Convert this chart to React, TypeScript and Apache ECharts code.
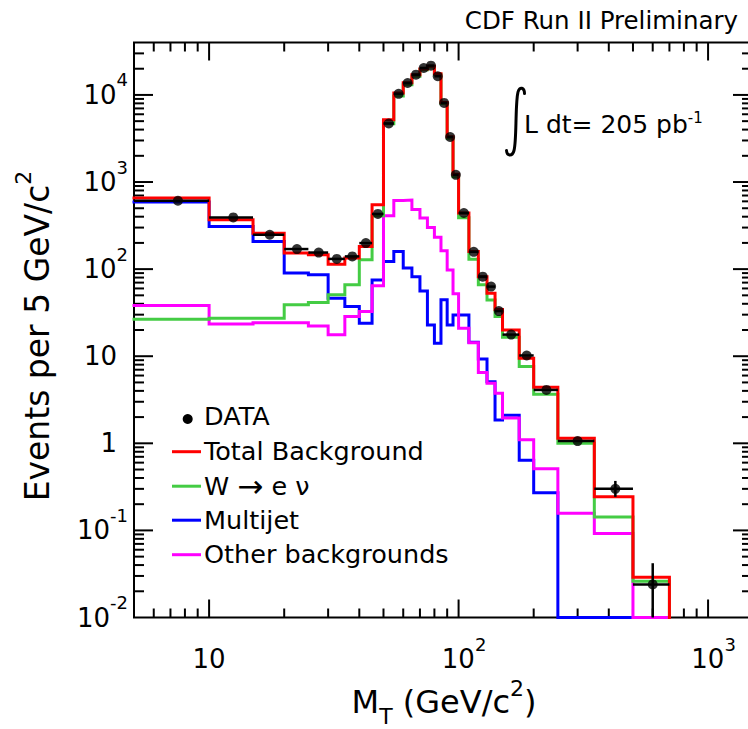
import React, { useEffect, useRef } from "react";
import * as echarts from "echarts";

// ---- data ----
const binEdges = [5, 10, 15, 20, 25, 30, 35, 40, 45, 50, 55, 60, 65, 70, 75, 80, 85, 90, 95, 100, 110, 120, 130, 140, 150, 175, 200, 250, 350, 500, 700];

const dataCounts = [610, 392, 248, 170, 155, 131, 140, 199, 430, 4700, 10300, 13700, 17100, 20400, 21700, 16400, 8100, 3290, 1210, 441, 158, 82, 63, 33, 17.7, 10.2, 4.1, 1.06, 0.3, 0.024];
const dataErrLow: (number | null)[] = [null, null, null, null, null, null, null, null, null, null, null, null, null, null, null, null, null, null, null, null, null, null, null, null, null, null, null, null, 0.243, 0];
const dataErrHigh: (number | null)[] = [null, null, null, null, null, null, null, null, null, null, null, null, null, null, null, null, null, null, null, null, null, null, null, null, null, null, null, null, 0.37, 0.042];

const totalBackground = [655, 369, 259, 153, 146, 114, 134, 182, 548, 5200, 10500, 13800, 17000, 19900, 21300, 17500, 8200, 3300, 1230, 441, 159, 82, 53, 34.4, 20, 9.5, 4.4, 1.14, 0.243, 0.029];
const wToENu = [26.6, 27.3, 27.3, 38.9, 41.3, 50.7, 66, 128, 409, 4670, 9730, 13080, 16430, 19460, 20980, 17250, 7990, 3180, 1150, 390, 130, 66, 44.3, 28.5, 16.5, 7.6, 3.65, 1.0, 0.143, 0.026];
const multijet = [590, 309, 208, 90, 86, 46.4, 37.2, 23.9, 75, 122, 159, 103, 82, 56, 22.9, 14.1, 44.4, 22.9, 29.8, 29.8, 14.5, 9.3, 5.1, 1.85, 2.1, 0.64, 0.27, 0, 0, 0];
const otherBackgrounds = [38.2, 23.5, 24.3, 24.3, 22.3, 17.6, 28.5, 32.6, 64.4, 410, 615, 620, 485, 386, 300, 232, 163, 98, 52, 21, 14.3, 6.5, 4.9, 3.76, 1.95, 1.1, 0.51, 0.157, 0.092, 0];

const legendLabels = ["DATA", "Total Background", "W \u2192 e \u03bd", "Multijet", "Other backgrounds"];

const X_MIN = 5;
const X_MAX = 1500;
const Y_MIN = 0.01;
const Y_MAX = 40000;

const xDecades = [1, 10, 100, 1000];
const yDecades = [0.01, 0.1, 1, 10, 100, 1000, 10000];
const minorMantissas = [2, 3, 4, 5, 6, 7, 8, 9];

const FONT = "DejaVu Sans";
const RED = "#ff0000";
const GREEN = "#44cc44";
const BLUE = "#0000ff";
const MAGENTA = "#ff00ff";

// integral sign outline (drawn symbol)
echarts.graphic.registerShape(
  "integralSign",
  echarts.graphic.extendPath(
    "M524.5,93.5 C524.5,87.5 519.5,86 518,92 C516.5,98 516.3,110 516,121 C515.7,133 515.5,145 514,150.5 C512.5,156.5 507,156.5 506.5,150.5",
    {}
  ) as any
);

function stepPoints(values: number[]) {
  const pts: number[][] = [];
  for (let i = 0; i < values.length; i++) {
    const v = Math.max(values[i], Y_MIN);
    pts.push([binEdges[i], v], [binEdges[i + 1], v]);
  }
  pts.push([binEdges[binEdges.length - 1], Y_MIN]);
  return pts;
}

function minorList(decades: number[], lo: number, hi: number) {
  const out: number[] = [];
  decades.forEach((d) => minorMantissas.forEach((m) => {
    const v = d * m;
    if (v > lo * 1.0001 && v < hi * 0.9999) out.push(v);
  }));
  return out;
}

function histSeries(name: string, values: number[], color: string, z: number) {
  return {
    type: "line",
    name,
    data: stepPoints(values),
    showSymbol: false,
    symbol: "none",
    clip: false,
    silent: true,
    z,
    lineStyle: { color, width: 3, join: "miter", cap: "square" },
  };
}

function buildOption() {
  const centers = dataCounts.map((_, i) => (binEdges[i] + binEdges[i + 1]) / 2);
  const xMajor = xDecades.filter((v) => v > X_MIN && v < X_MAX);
  const yMajor = yDecades.filter((v) => v > Y_MIN && v < Y_MAX);
  const xMinor = minorList(xDecades, X_MIN, X_MAX);
  const yMinor = minorList(yDecades, Y_MIN, Y_MAX);

  const errData = dataCounts.map((v, i) => [
    binEdges[i],
    binEdges[i + 1],
    centers[i],
    v,
    Math.max(dataErrLow[i] == null ? v : (dataErrLow[i] as number), Y_MIN),
    dataErrHigh[i] == null ? v : (dataErrHigh[i] as number),
  ]);

  const labelRich = {
    b: { fontSize: 26, lineHeight: 48, fontFamily: FONT, color: "#000" },
    s: { fontSize: 18, lineHeight: 18, verticalAlign: "top", fontFamily: FONT, color: "#000" },
    p: { width: 11, lineHeight: 48, fontSize: 26, fontFamily: FONT },
  };

  const legendFont = { fontSize: 25.5, fontFamily: FONT, fill: "#000" };
  const legendX = 204;
  const legendRows = [416, 451, 485.5, 519.5, 554];
  const legendColors = [RED, GREEN, BLUE, MAGENTA];

  const graphic: any[] = [
    {
      type: "text", x: 738, y: 20, z: 100,
      style: { text: "CDF Run II Preliminary", ...legendFont, fontSize: 24.5, align: "right", verticalAlign: "middle", textAlign: "right", textVerticalAlign: "middle" },
    },
    {
      type: "integralSign", x: 0, y: 0, z: 100,
      style: { stroke: "#000", fill: "none", lineWidth: 3, lineCap: "round" },
    },
    {
      type: "text", x: 524, y: 124, z: 100,
      style: {
        text: "{m|L dt= 205 pb}{s|-1}",
        align: "left", verticalAlign: "middle", textAlign: "left", textVerticalAlign: "middle",
        rich: {
          m: { fontSize: 25, lineHeight: 28, fontFamily: FONT, color: "#000" },
          s: { fontSize: 15, lineHeight: 15, verticalAlign: "top", fontFamily: FONT, color: "#000" },
        },
      },
    },
    { type: "circle", z: 100, shape: { cx: 187.7, cy: 419, r: 5 }, style: { fill: "#000" } },
    {
      type: "text", x: legendX, y: legendRows[0], z: 100,
      style: { text: legendLabels[0], ...legendFont, align: "left", verticalAlign: "middle", textAlign: "left", textVerticalAlign: "middle" },
    },
    {
      type: "text", x: 444, y: 702, z: 100,
      style: {
        text: "{a|M}{t|T}{a| (GeV/c}{s|2}{a|)}",
        align: "center", verticalAlign: "middle", textAlign: "center", textVerticalAlign: "middle",
        rich: {
          a: { fontSize: 32, lineHeight: 50, fontFamily: FONT, color: "#000" },
          t: { fontSize: 22, lineHeight: 22, verticalAlign: "bottom", fontFamily: FONT, color: "#000" },
          s: { fontSize: 22, lineHeight: 30, verticalAlign: "top", fontFamily: FONT, color: "#000" },
        },
      },
    },
    {
      type: "text", x: 37, y: 336, rotation: Math.PI / 2, z: 100,
      style: {
        text: "{a|Events per 5 GeV/c}{s|2}",
        align: "center", verticalAlign: "middle", textAlign: "center", textVerticalAlign: "middle",
        rich: {
          a: { fontSize: 33, lineHeight: 50, fontFamily: FONT, color: "#000" },
          s: { fontSize: 22, lineHeight: 30, verticalAlign: "top", fontFamily: FONT, color: "#000" },
        },
      },
    },
  ];
  for (let k = 0; k < 4; k++) {
    const y = legendRows[k + 1];
    graphic.push({ type: "line", z: 100, shape: { x1: 172, y1: y + 0.7, x2: 201, y2: y + 0.7 }, style: { stroke: legendColors[k], lineWidth: 3 } });
    if (k === 1) {
      graphic.push({
        type: "text", x: legendX, y, z: 100,
        style: {
          text: "{a|W }{r|\u2192}{a| e \u03bd}",
          align: "left", verticalAlign: "middle", textAlign: "left", textVerticalAlign: "middle",
          rich: {
            a: { fontSize: 25.5, lineHeight: 30, fontFamily: FONT, color: "#000" },
            r: { fontSize: 31, lineHeight: 30, fontFamily: FONT, color: "#000" },
          },
        },
      });
    } else {
      graphic.push({
        type: "text", x: legendX, y, z: 100,
        style: { text: legendLabels[k + 1], ...legendFont, align: "left", verticalAlign: "middle", textAlign: "left", textVerticalAlign: "middle" },
      });
    }
  }

  return {
    animation: false,
    backgroundColor: "#fff",
    grid: {
      left: 134, top: 42.5, right: -4, bottom: 111.5,
      show: true, borderColor: "#000", borderWidth: 2, backgroundColor: "transparent",
      containLabel: false, outerBoundsMode: "none",
    },
    xAxis: {
      type: "log", logBase: 10, min: X_MIN, max: X_MAX,
      axisLine: { show: false }, axisTick: { show: false }, splitLine: { show: false },
      axisLabel: {
        margin: 17.5, showMinLabel: false, showMaxLabel: false,
        fontFamily: FONT, fontSize: 26, color: "#000",
        formatter: (v: number) => {
          const n = Math.round(Math.log10(v));
          if (n === 1) return "{b|10}";
          if (n === 0) return "{b|1}";
          return `{p| }{b|10}{s|${n}}`;
        },
        rich: labelRich,
      },
    },
    yAxis: {
      type: "log", logBase: 10, min: Y_MIN, max: Y_MAX,
      axisLine: { show: false }, axisTick: { show: false }, splitLine: { show: false },
      axisLabel: {
        margin: 6, showMinLabel: true, showMaxLabel: false,
        fontFamily: FONT, fontSize: 26, color: "#000",
        formatter: (v: number) => {
          const n = Math.round(Math.log10(v));
          if (n === 0) return "{b|1}{p| }";
          if (n === 1) return "{b|10}{p| }";
          return `{b|10}{s|${n}}`;
        },
        rich: labelRich,
      },
    },
    graphic,
    series: [
      {
        type: "custom",
        coordinateSystem: "cartesian2d",
        silent: true,
        z: 1,
        data: [[X_MIN, Y_MIN]],
        renderItem: (params: any, api: any) => {
          const cs = params.coordSys;
          const left = cs.x, right = cs.x + cs.width, top = cs.y, bottom = cs.y + cs.height;
          const style = { stroke: "#000", lineWidth: 2 };
          const children: any[] = [];
          const addX = (v: number, len: number) => {
            const px = api.coord([v, Y_MIN])[0];
            children.push({ type: "line", shape: { x1: px, y1: bottom, x2: px, y2: bottom - len }, style });
            children.push({ type: "line", shape: { x1: px, y1: top, x2: px, y2: top + len }, style });
          };
          const addY = (v: number, len: number) => {
            const py = api.coord([X_MIN, v])[1];
            children.push({ type: "line", shape: { x1: left, y1: py, x2: left + len, y2: py }, style });
            children.push({ type: "line", shape: { x1: right, y1: py, x2: right - len, y2: py }, style });
          };
          xMajor.forEach((v) => addX(v, 18));
          xMinor.forEach((v) => addX(v, 9));
          yMajor.forEach((v) => addY(v, 19));
          yMinor.forEach((v) => addY(v, 10));
          return { type: "group", children };
        },
      },
      histSeries("Multijet", multijet, BLUE, 3),
      histSeries("Other backgrounds", otherBackgrounds, MAGENTA, 4),
      histSeries("W \u2192 e \u03bd", wToENu, GREEN, 5),
      histSeries("Total Background", totalBackground, RED, 6),
      {
        type: "custom",
        name: "DATA errors",
        coordinateSystem: "cartesian2d",
        silent: true,
        z: 8,
        encode: { x: 2, y: 3 },
        data: errData,
        renderItem: (params: any, api: any) => {
          const y = api.value(3);
          const a = api.coord([api.value(0), y]);
          const b = api.coord([api.value(1), y]);
          const c0 = api.coord([api.value(2), api.value(4)]);
          const c1 = api.coord([api.value(2), api.value(5)]);
          const st = { stroke: "#000", lineWidth: 2.5 };
          return {
            type: "group",
            children: [
              { type: "line", shape: { x1: a[0], y1: a[1], x2: b[0], y2: b[1] }, style: st },
              { type: "line", shape: { x1: c0[0], y1: c0[1], x2: c1[0], y2: c1[1] }, style: st },
            ],
          };
        },
      },
      {
        type: "scatter",
        name: "DATA",
        data: dataCounts.map((v, i) => [centers[i], v]),
        symbol: "circle",
        symbolSize: 10,
        itemStyle: { color: "#000" },
        silent: true,
        clip: false,
        z: 9,
      },
    ],
  };
}

export default function App() {
  const ref = useRef<HTMLDivElement>(null);
  useEffect(() => {
    document.body.style.margin = "0";
    const chart = echarts.init(ref.current as HTMLDivElement, null, { renderer: "svg" });
    chart.setOption(buildOption() as any);
    return () => chart.dispose();
  }, []);
  return (
    <div
      ref={ref}
      style={{ position: "fixed", left: 0, top: 0, width: 748, height: 729, background: "#fff", overflow: "hidden" }}
    />
  );
}
